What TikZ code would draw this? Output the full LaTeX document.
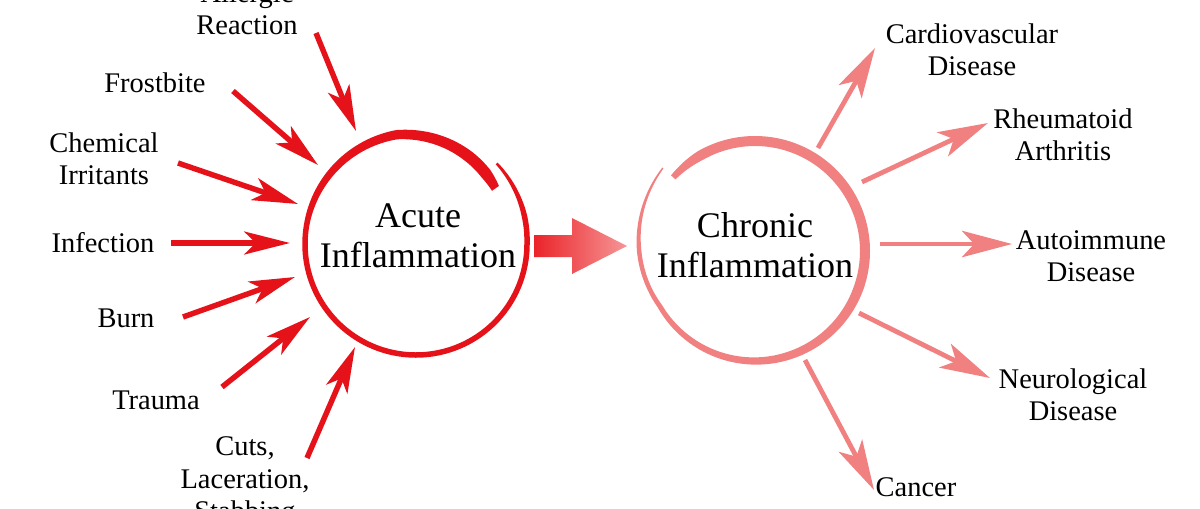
\documentclass[tikz,border=0pt]{standalone}
\usepackage{fontspec}
\setmainfont{Liberation Serif}
\usetikzlibrary{arrows.meta}
\definecolor{acutered}{RGB}{229,18,26}
\definecolor{chronicpink}{RGB}{241,128,128}
\definecolor{gradleft}{RGB}{234,36,42}
\definecolor{gradright}{RGB}{246,150,150}
\pgfmathdeclarefunction{acrad}{1}{\pgfmathparse{111-14*max(0,(#1)-260)/65+3*max(0,0-(#1))/45}}
\pgfmathdeclarefunction{acwid}{1}{\pgfmathparse{2.5+3*min(1,((#1)+45)/30)+6*min(1,max(0,((#1)-190)/110))-3*max(0,((#1)-315)/10)}}
\pgfmathdeclarefunction{chrad}{1}{\pgfmathparse{110+14*max(0,(#1)-510)/72}}
\pgfmathdeclarefunction{chwid}{1}{\pgfmathparse{10-5.5*min(1,max(0,((#1)-380)/140))-3*max(0,((#1)-540)/42)-4*max(0,(240-(#1))/18)}}
\tikzset{
  lab/.style={font=\fontsize{16.2}{18.5}\selectfont, align=center, inner sep=0pt},
  big/.style={font=\fontsize{20.5}{22.8}\selectfont, align=center, inner sep=0pt},
  redarr/.style={draw=acutered, line width=3.1pt, -{Stealth[length=26pt,width=13pt,inset=6.5pt]}},
  pinkarr/.style={draw=chronicpink, line width=2.7pt, -{Stealth[length=28.5pt,width=15pt,inset=7pt]}},
}
\begin{document}
\begin{tikzpicture}[x=0.02cm,y=-0.02cm]
\useasboundingbox (0,0) rectangle (1200,508);
\clip (0,0) rectangle (1200,508);
\fill[white] (0,0) rectangle (1200,508);

% brush circles
\fill[acutered] plot[domain=-45:325,samples=220] ({416+(acrad(\x)+acwid(\x)/2)*cos(\x)},{244+(acrad(\x)+acwid(\x)/2)*sin(\x)})
  -- plot[domain=325:-45,samples=220] ({416+(acrad(\x)-acwid(\x)/2)*cos(\x)},{244+(acrad(\x)-acwid(\x)/2)*sin(\x)}) -- cycle;
\fill[chronicpink] plot[domain=222:582,samples=220] ({755+(chrad(\x)+chwid(\x)/2)*cos(\x)},{251+(chrad(\x)+chwid(\x)/2)*sin(\x)})
  -- plot[domain=582:222,samples=220] ({755+(chrad(\x)-chwid(\x)/2)*cos(\x)},{251+(chrad(\x)-chwid(\x)/2)*sin(\x)}) -- cycle;

% circle labels
\node[big] (acute) at (418,236) {Acute\\Inflammation};
\node[big] (chronic) at (755,245) {Chronic\\Inflammation};

% big gradient arrow
\shade[left color=gradleft, right color=gradright] (534,235) -- (572,235) -- (572,218) -- (627,246) -- (572,274) -- (572,257) -- (534,257) -- cycle;

% left labels
\node[lab] (allergic) at (247,9) {Allergic\\Reaction};
\node[lab, anchor=base] (frost) at (155,92) {Frostbite};
\node[lab] (chem) at (104,159) {Chemical\\Irritants};
\node[lab, anchor=base] (infect) at (103,252) {Infection};
\node[lab, anchor=base] (burn) at (126,327) {Burn};
\node[lab, anchor=base] (trauma) at (156,409) {Trauma};
\node[lab] (cuts) at (245,482) {Cuts,\\Laceration,\\Stabbing};

% right labels
\node[lab] (cardio) at (972,50) {Cardiovascular\\Disease};
\node[lab] (rheum) at (1063,135) {Rheumatoid\\Arthritis};
\node[lab] (auto) at (1091,256) {Autoimmune\\Disease};
\node[lab] (neuro) at (1073,395) {Neurological\\Disease};
\node[lab, anchor=base] (cancer) at (916,496) {Cancer};

% arrow end points
\coordinate (a1s) at (316,33);  \coordinate (a1e) at (356,131);
\coordinate (a2s) at (233,91);  \coordinate (a2e) at (318,165);
\coordinate (a3s) at (178,163); \coordinate (a3e) at (298,204);
\coordinate (a4s) at (171,243); \coordinate (a4e) at (290,243);
\coordinate (a5s) at (183,317); \coordinate (a5e) at (295,277);
\coordinate (a6s) at (222,387); \coordinate (a6e) at (310,317);
\coordinate (a7s) at (307,458); \coordinate (a7e) at (355,347);

\coordinate (b1s) at (818,148); \coordinate (b1e) at (875,48);
\coordinate (b2s) at (862,182); \coordinate (b2e) at (988,123);
\coordinate (b3s) at (880,244); \coordinate (b3e) at (1012,244);
\coordinate (b4s) at (859,313); \coordinate (b4e) at (990,378);
\coordinate (b5s) at (805,360); \coordinate (b5e) at (874,490);

\draw[redarr] (a1s) -- (a1e);
\draw[redarr] (a2s) -- (a2e);
\draw[redarr] (a3s) -- (a3e);
\draw[redarr] (a4s) -- (a4e);
\draw[redarr] (a5s) -- (a5e);
\draw[redarr] (a6s) -- (a6e);
\draw[redarr] (a7s) -- (a7e);

\draw[pinkarr] (b1s) -- (b1e);
\draw[pinkarr] (b2s) -- (b2e);
\draw[pinkarr] (b3s) -- (b3e);
\draw[pinkarr] (b4s) -- (b4e);
\draw[pinkarr] (b5s) -- (b5e);
\end{tikzpicture}
\end{document}
